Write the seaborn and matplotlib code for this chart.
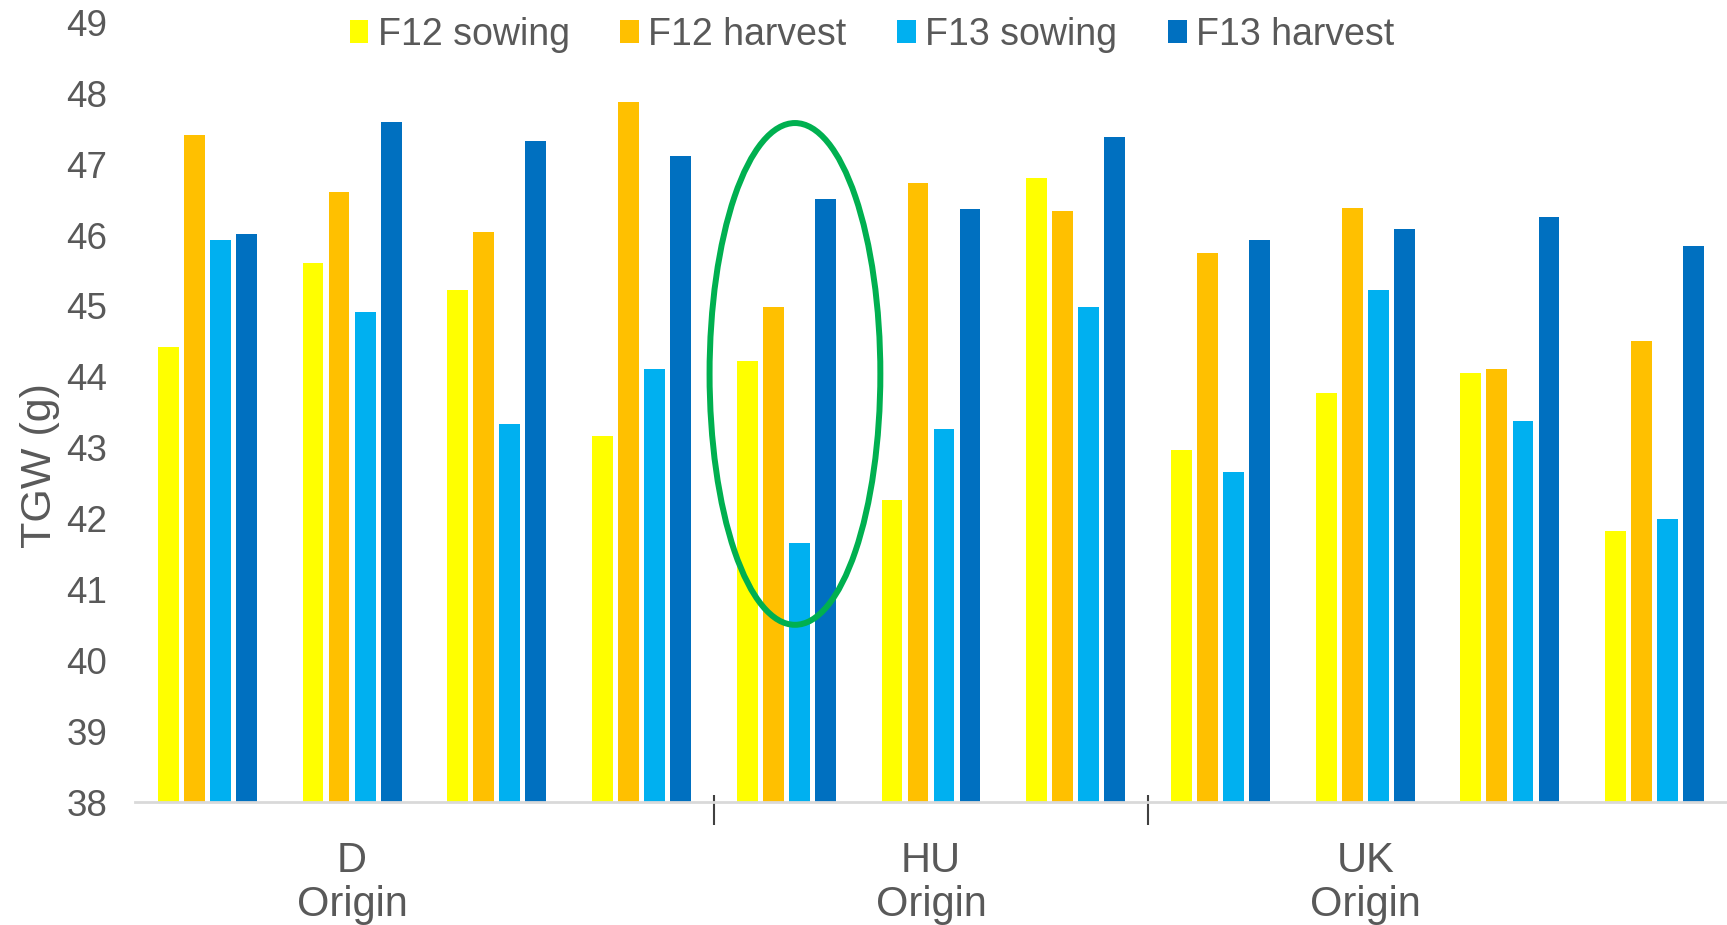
import matplotlib
matplotlib.use("Agg")
import matplotlib.pyplot as plt
from matplotlib.patches import Ellipse
import seaborn as sns
import pandas as pd

# ---- data ----
lines = ["D1", "D2", "D3", "D4", "HU1", "HU2", "HU3", "UK1", "UK2", "UK3", "UK4"]
origins = ["D", "D", "D", "D", "HU", "HU", "HU", "UK", "UK", "UK", "UK"]
series_names = ["F12 sowing", "F12 harvest", "F13 sowing", "F13 harvest"]
f12_sowing = [44.42, 45.60, 45.22, 43.17, 44.22, 42.26, 46.80, 42.96, 43.77, 44.06, 41.82]
f12_harvest = [47.41, 46.61, 46.04, 47.87, 44.98, 46.73, 46.34, 45.75, 46.38, 44.11, 44.51]
f13_sowing = [45.93, 44.92, 43.33, 44.11, 41.65, 43.27, 44.99, 42.65, 45.22, 43.37, 41.99]
f13_harvest = [46.01, 47.59, 47.32, 47.12, 46.51, 46.37, 47.39, 45.93, 46.08, 46.26, 45.84]
origin_labels = ["D\nOrigin", "HU\nOrigin", "UK\nOrigin"]
origin_label_pos = [1, 5, 8]
y_ticks = list(range(38, 50))

colors = ["#FFFF00", "#FFC000", "#00B0F0", "#0070C0"]

rows = []
for name, vals in zip(series_names, [f12_sowing, f12_harvest, f13_sowing, f13_harvest]):
    for ln, v in zip(lines, vals):
        rows.append({"line": ln, "series": name, "TGW": v})
df = pd.DataFrame(rows)

sns.set_theme(style="white")
plt.rcParams["font.family"] = ["Liberation Sans", "DejaVu Sans"]
TXT = "#595959"

W, H = 1727, 925
fig = plt.figure(figsize=(W / 100, H / 100), dpi=100)
ax_left, ax_right = 135 / W, 1.0
ax_bottom, ax_top = 1 - 802 / H, 1 - 22.4 / H
ax = fig.add_axes([ax_left, ax_bottom, ax_right - ax_left, ax_top - ax_bottom])

sns.barplot(data=df, x="line", y="TGW", hue="series", order=lines,
            hue_order=series_names, palette=colors, saturation=1,
            width=0.72, gap=0.2, linewidth=0, ax=ax, legend=True)

ax.set_ylim(38, 49)
ax.set_xlim(-0.5, len(lines) - 0.5)
ax.set_yticks(y_ticks)
ax.tick_params(axis="y", length=0, pad=20, labelsize=26.5, labelcolor=TXT)
ax.set_ylabel("TGW (g)", fontsize=31, color=TXT)
ax.yaxis.set_label_coords(-0.047, 0.431)
ax.set_xlabel("")

ax.set_xticks(origin_label_pos)
ax.set_xticklabels(origin_labels, fontsize=30, color=TXT, linespacing=1.12)
ax.tick_params(axis="x", length=0, pad=28)

for s in ["top", "right", "left"]:
    ax.spines[s].set_visible(False)
ax.spines["bottom"].set_color("#D9D9D9")
ax.spines["bottom"].set_linewidth(2)

# group separators on the category axis
counts = pd.Series(origins).value_counts(sort=False).tolist()
bounds = []
acc = 0
for c in counts[:-1]:
    acc += c
    bounds.append(acc - 0.5)
ax.vlines(bounds, -0.0295, 0.009, transform=ax.get_xaxis_transform(),
          colors="#404040", linewidth=1.5, clip_on=False)

# highlight ellipse
ell = Ellipse((4.06, 44.04), width=1.18, height=7.08, fill=False,
              edgecolor="#00B050", linewidth=4.3, zorder=5, clip_on=False)
ax.add_patch(ell)

# legend
sns.move_legend(ax, "center", bbox_to_anchor=(872 / W, 1 - 35 / H),
                bbox_transform=fig.transFigure, ncol=4, frameon=False,
                title=None, fontsize=27, handlelength=0.5, handleheight=0.55,
                handletextpad=0.25, columnspacing=1.35)
for t in ax.get_legend().get_texts():
    t.set_color(TXT)

fig.savefig("out.png", dpi=100)
